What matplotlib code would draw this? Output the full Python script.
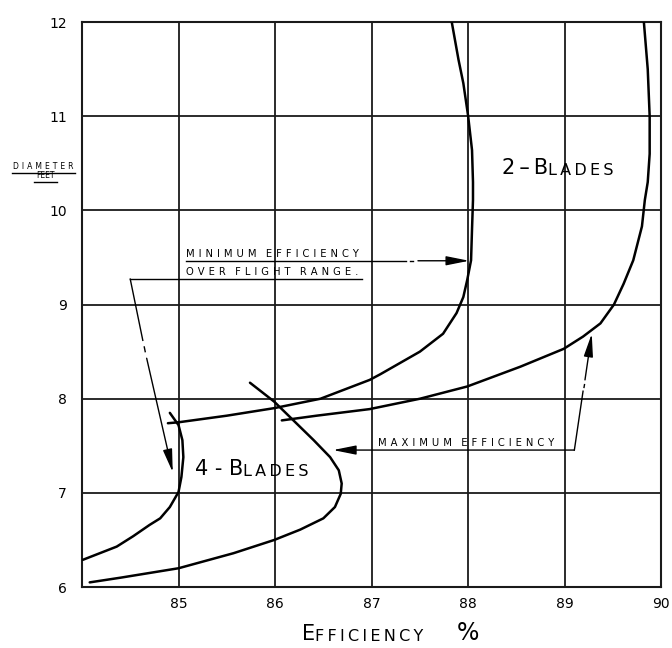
import matplotlib
matplotlib.use("Agg")
import matplotlib.pyplot as plt

plt.rcParams["font.family"] = ["DejaVu Sans"]

# efficiency (%) vs diameter (ft)
blade2_min_x = [87.83, 87.90, 87.95, 88.00, 88.04, 88.05, 88.05, 88.04, 88.03, 87.99,
                87.95, 87.88, 87.74, 87.50, 87.09, 86.98, 86.47, 85.99, 85.50, 85.00,
                84.89]
blade2_min_y = [12.0, 11.6, 11.35, 11.0, 10.64, 10.3, 10.11, 9.80, 9.47, 9.26,
                9.08, 8.91, 8.69, 8.50, 8.26, 8.20, 8.00, 7.90, 7.82, 7.75,
                7.74]

blade2_max_x = [89.82, 89.86, 89.88, 89.88, 89.86, 89.83, 89.80, 89.71, 89.61, 89.51,
                89.37, 89.19, 88.99, 88.54, 87.99, 87.50, 86.98, 86.43, 86.07]
blade2_max_y = [12.0, 11.5, 11.0, 10.6, 10.3, 10.11, 9.83, 9.47, 9.22, 9.00,
                8.80, 8.66, 8.53, 8.34, 8.13, 8.00, 7.89, 7.82, 7.77]

blade4_min_x = [84.91, 85.00, 85.04, 85.05, 85.03, 85.00, 84.91, 84.81, 84.70, 84.53,
                84.36, 84.01]
blade4_min_y = [7.85, 7.72, 7.56, 7.38, 7.17, 7.01, 6.85, 6.73, 6.66, 6.54,
                6.43, 6.29]

blade4_max_x = [85.74, 85.99, 86.19, 86.40, 86.57, 86.66, 86.69, 86.68, 86.62, 86.50,
                86.26, 85.99, 85.57, 85.00, 84.70, 84.40, 84.08]
blade4_max_y = [8.17, 7.97, 7.77, 7.56, 7.38, 7.24, 7.10, 6.99, 6.85, 6.73,
                6.61, 6.50, 6.36, 6.20, 6.15, 6.10, 6.05]

x_ticks = [85, 86, 87, 88, 89, 90]
y_ticks = [6, 7, 8, 9, 10, 11, 12]

TS = "\u2009"  # thin space, to open up the hand lettering


def spaced(s, n=1):
    return (TS * n).join(s)


def words(*ws):
    return "   ".join(spaced(w, 2) for w in ws)


fig = plt.figure(figsize=(6.72, 6.48), dpi=100)
ax = fig.add_axes([0.122, 0.094, 0.862, 0.872])
ax.set_xlim(84, 90)
ax.set_ylim(6, 12)

for v in range(85, 90):
    ax.axvline(v, color="#1a1a1a", lw=1.3, zorder=1)
for v in range(7, 12):
    ax.axhline(v, color="#1a1a1a", lw=1.3, zorder=1)
for s in ax.spines.values():
    s.set_linewidth(1.5)
    s.set_color("#1a1a1a")

ax.set_xticks(x_ticks)
ax.set_yticks(y_ticks)
ax.tick_params(length=0, labelsize=10)
ax.tick_params(axis="x", pad=7)
ax.tick_params(axis="y", pad=11)

kw = dict(color="k", lw=1.8, zorder=3, solid_joinstyle="round", solid_capstyle="round")
ax.plot(blade2_min_x, blade2_min_y, **kw)
ax.plot(blade2_max_x, blade2_max_y, **kw)
ax.plot(blade4_min_x, blade4_min_y, **kw)
ax.plot(blade4_max_x, blade4_max_y, **kw)


def arrow(x0, y0, x1, y1):
    ax.annotate("", xy=(x1, y1), xytext=(x0, y0),
                arrowprops=dict(arrowstyle="-|>,head_length=1.4,head_width=0.28",
                                mutation_scale=10, lw=1.0, color="k",
                                shrinkA=0, shrinkB=0), zorder=4)


def line(xs, ys):
    ax.plot(xs, ys, color="k", lw=1.0, zorder=4, clip_on=False)


def small_caps(x, y, parts):
    t = ax.text(x, y, parts[0][0], fontsize=parts[0][1], ha="left", va="baseline",
                clip_on=False)
    for s, size in parts[1:]:
        t = ax.annotate(s, xy=(1, 0), xycoords=t, fontsize=size, ha="left",
                        va="bottom", annotation_clip=False)
    return t


# minimum efficiency note
ax.text(85.08, 9.51, words("MINIMUM", "EFFICIENCY"), fontsize=7.2,
        ha="left", va="baseline")
ax.text(85.08, 9.31, words("OVER", "FLIGHT", "RANGE."), fontsize=7.2,
        ha="left", va="baseline")
line([85.08, 87.36], [9.465, 9.465])
line([87.40, 87.43], [9.465, 9.465])
arrow(87.48, 9.465, 88.01, 9.465)
line([84.50, 86.90], [9.27, 9.27])
line([84.50, 84.63], [9.27, 8.62])
line([84.645, 84.655], [8.55, 8.50])
arrow(84.67, 8.43, 84.94, 7.22)

# maximum efficiency note
ax.text(87.07, 7.50, words("MAXIMUM", "EFFICIENCY"), fontsize=7.2,
        ha="left", va="baseline")
arrow(89.10, 7.455, 86.60, 7.455)
line([89.10, 89.19], [7.455, 8.08])
line([89.20, 89.205], [8.12, 8.15])
arrow(89.21, 8.20, 89.28, 8.69)

small_caps(88.35, 10.39, [("2" + TS + "\u2013" + TS + "B", 15), (spaced("LADES"), 11.5)])
small_caps(85.17, 7.19, [("4 - B", 15), (spaced("LADES"), 11.5)])
small_caps(86.28, 5.44, [("E", 15), (spaced("FFICIENCY"), 11.5)])
ax.text(87.88, 5.44, "%", fontsize=17, ha="left", va="baseline")

# y-axis caption
ax.text(83.60, 10.435, spaced("DIAMETER", 2), fontsize=5.5, ha="center", va="baseline")
ax.text(83.62, 10.345, "FEET", fontsize=5.5, ha="center", va="baseline")
line([83.27, 83.93], [10.40, 10.40])
line([83.50, 83.74], [10.305, 10.305])

fig.savefig("out.png", dpi=100)
